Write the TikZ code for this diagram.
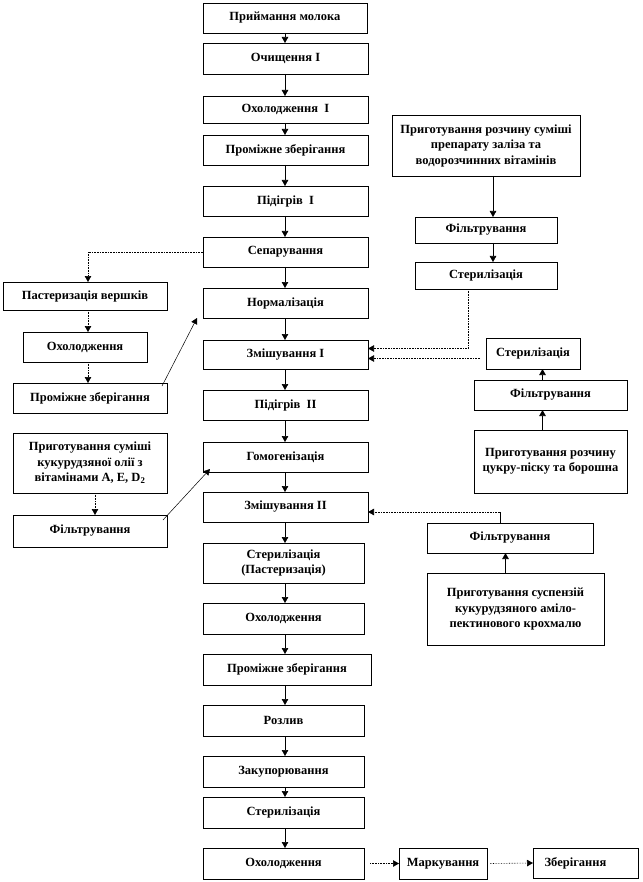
\documentclass[tikz,border=0pt]{standalone}
\usepackage{fontspec}
\setmainfont{Liberation Serif}
\usetikzlibrary{arrows.meta,calc}
\newcommand{\mybox}[6]{\node[box, minimum width={#4pt-#2pt}, minimum height={#5pt-#3pt}] (#1) at ({(#2+#4)/2},{(#3+#5)/2}) {#6};}
\begin{document}
\begin{tikzpicture}[x=1pt,y=-1pt,
  box/.style={draw, line width=0.6pt, inner sep=1pt, outer sep=0pt, align=center,
    font=\bfseries\fontsize{12.5}{15.5}\selectfont},
  arr/.style={line width=0.6pt, -{Triangle[length=6pt,width=6.5pt]}},
  darr/.style={line width=0.6pt, densely dotted, -{Triangle[length=6pt,width=6.5pt]}},
  dline/.style={line width=0.6pt, densely dotted}]
\fill[white] (0,0) rectangle (642,882);
\useasboundingbox (0,0) rectangle (642,882);
% main column
\mybox{m1}{203}{3}{367}{33}{Приймання молока}
\mybox{m2}{203}{43}{368}{74}{Очищення I}
\mybox{m3}{203}{96}{368}{123}{Охолодження\ \ I}
\mybox{m4}{203}{135}{368}{165}{Проміжне зберігання}
\mybox{m5}{203}{186}{368}{216}{Підігрів\ \ I}
\mybox{m6}{203}{237}{368}{267}{Сепарування}
\mybox{m7}{203}{288}{368}{318}{Нормалізація}
\mybox{m8}{203}{340}{368}{369}{Змішування I}
\mybox{m9}{203}{390}{368}{420}{Підігрів\ \ II}
\mybox{m10}{203}{442}{368}{472}{Гомогенізація}
\mybox{m11}{203}{492}{368}{522}{Змішування II}
\mybox{m12}{203}{543}{364}{583}{Стерилізація\\(Пастеризація)}
\mybox{m13}{203}{603}{364}{634}{Охолодження}
\mybox{m14}{203}{654}{371}{685}{Проміжне зберігання}
\mybox{m15}{203}{705}{364}{736}{Розлив}
\mybox{m16}{203}{756}{364}{787}{Закупорювання}
\mybox{m17}{203}{797}{364}{828}{Стерилізація}
\mybox{m18}{203}{848}{364}{879}{Охолодження}
\mybox{mk}{399}{848}{487}{879}{Маркування}
\mybox{zb}{533}{848}{638}{878}{\hspace*{-20pt}Зберігання}
% right column
\mybox{r1}{392}{115}{580}{176}{Приготування розчину суміші\\препарату заліза та\\водорозчинних вітамінів}
\mybox{r2}{415}{217}{557}{243}{Фільтрування}
\mybox{r3}{415}{262}{557}{289}{Стерилізація}
\mybox{r4}{486}{338}{580}{369}{Стерилізація}
\mybox{r5}{474}{380}{627}{410}{Фільтрування}
\mybox{r6}{474}{430}{627}{493}{Приготування розчину\\цукру-піску та борошна}
\mybox{r7}{427}{523}{593}{553}{Фільтрування}
\mybox{r8}{427}{573}{604}{645}{Приготування суспензій\\кукурудзяного аміло-\\пектинового крохмалю}
% left column
\mybox{l1}{3}{282}{167}{310}{Пастеризація вершків}
\mybox{l2}{23}{332}{147}{362}{Охолодження}
\mybox{l3}{13}{383}{167}{413}{Проміжне зберігання}
\mybox{l4}{13}{433}{167}{493}{Приготування суміші\\кукурудзяної олії з\\вітамінами A, E, D\textsubscript{2}}
\mybox{l5}{13}{515}{167}{547}{Фільтрування}
% main arrows
\foreach \a/\b in {m1/m2,m2/m3,m3/m4,m4/m5,m5/m6,m6/m7,m7/m8,m8/m9,m9/m10,m10/m11,m11/m12,m12/m13,m13/m14,m14/m15,m15/m16,m16/m17,m17/m18}
  \draw[arr] (\a.south -| m1.south) -- (\b.north -| m1.south);
\draw[darr] ([xshift=6pt]m18.east) -- (mk.west);
\draw[darr] ([xshift=3pt]mk.east) -- (zb.west);
% right arrows
\draw[arr] ([xshift=7pt]r1.south) -- ([xshift=7pt]r2.north);
\draw[arr] ([xshift=7pt]r2.south) -- ([xshift=7pt]r3.north);
\draw[darr] ([xshift=-18pt]r3.south) |- ([yshift=6pt]m8.east);
\draw[darr] ([xshift=-6pt,yshift=-5pt]r4.west) -- ([yshift=-5pt]r4.west -| m8.east);
\draw[arr] ([xshift=-8pt]r6.north) -- ([xshift=-8pt]r6.north |- r5.south);
\draw[arr] ([xshift=-8pt]r5.north) -- ([xshift=-8pt]r5.north |- r4.south);
\draw[arr] ([xshift=-10pt]r8.north) -- ([xshift=-10pt]r8.north |- r7.south);
\coordinate (c7) at ([xshift=-10pt]r7.north |- 0,512);
\draw[line width=0.6pt] ([xshift=-10pt]r7.north) -- (c7);
\draw[darr] (c7) -- (c7 -| m11.east);
% left arrows
\draw[darr] (m6.west) -| ([xshift=3pt]l1.north);
\draw[darr] ([xshift=3pt]l1.south) -- ([xshift=3pt]l1.south |- l2.north);
\draw[darr] ([xshift=3pt]l2.south) -- ([xshift=3pt]l2.south |- l3.north);
\draw[arr, line width=0.5pt] ([xshift=-5pt,yshift=-3pt]l3.north east) -- ([xshift=-6pt]m7.south west);
\draw[darr] ([xshift=5pt]l4.south) -- ([xshift=5pt]l4.south |- l5.north);
\draw[arr, line width=0.5pt] ([xshift=-4pt,yshift=-5pt]l5.north east) -- ([xshift=7pt,yshift=3pt]m10.south west);
\end{tikzpicture}
\end{document}
